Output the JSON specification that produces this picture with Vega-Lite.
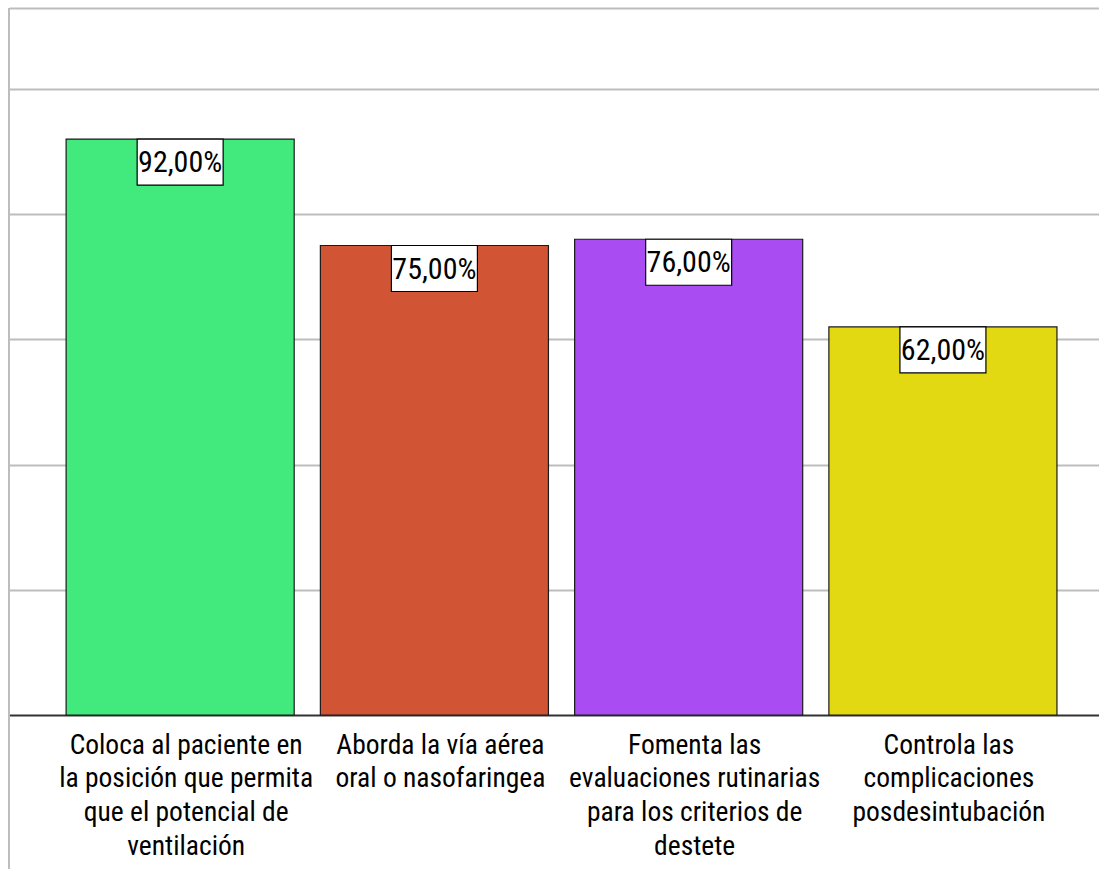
{
  "$schema": "https://vega.github.io/schema/vega-lite/v6.json",
  "width": 1090,
  "height": 707,
  "autosize": {"type": "none"},
  "padding": {"left": 9, "top": 8, "right": 0, "bottom": 154},
  "background": "white",
  "config": {"view": {"stroke": null}},
  "data": {
    "values": [
      {"cat": "Coloca al paciente en|la posición que permita|que el potencial de|ventilación", "value": 92, "label": "92,00%"},
      {"cat": "Aborda la vía aérea|oral o nasofaringea", "value": 75, "label": "75,00%"},
      {"cat": "Fomenta las|evaluaciones rutinarias|para los criterios de|destete", "value": 76, "label": "76,00%"},
      {"cat": "Controla las|complicaciones|posdesintubación", "value": 62, "label": "62,00%"}
    ]
  },
  "layer": [
    {
      "mark": {"type": "rule", "stroke": "#bdbdbd", "strokeWidth": 2},
      "encoding": {
        "x": {"value": 0},
        "y": {"datum": 112.94, "type": "quantitative", "scale": {"domain": [0, 112.94], "nice": false, "zero": true}},
        "y2": {"datum": -24.6}
      }
    },
    {
      "mark": {"type": "bar", "stroke": "#1a1a1a", "strokeWidth": 1.2},
      "encoding": {
        "x": {
          "field": "cat", "type": "nominal", "sort": null,
          "scale": {"paddingInner": 0.103, "paddingOuter": 0.195, "align": 0.576},
          "axis": {
            "title": null, "ticks": false, "domainColor": "#333333", "domainWidth": 1.8,
            "labelExpr": "split(datum.value, '|')", "labelAngle": 0,
            "labelFont": "Roboto Condensed",
            "labelFontSize": 27.5, "labelColor": "#000000", "labelLineHeight": 33.8,
            "labelPadding": 16, "labelLimit": 400, "labelBaseline": "top", "labelOffset": 6
          }
        },
        "y": {
          "field": "value", "type": "quantitative",
          "scale": {"domain": [0, 112.94], "nice": false},
          "axis": {
            "title": null, "labels": false, "ticks": false, "domain": false,
            "grid": true, "gridColor": "#bdbdbd", "gridWidth": 2,
            "values": [20, 40, 60, 80, 100, 112.94]
          }
        },
        "color": {
          "field": "cat", "type": "nominal", "legend": null,
          "scale": {
            "domain": [
              "Coloca al paciente en|la posición que permita|que el potencial de|ventilación",
              "Aborda la vía aérea|oral o nasofaringea",
              "Fomenta las|evaluaciones rutinarias|para los criterios de|destete",
              "Controla las|complicaciones|posdesintubación"
            ],
            "range": ["#42ea7e", "#d15535", "#a94cf2", "#e3d912"]
          }
        }
      }
    },
    {
      "mark": {"type": "point", "shape": "M-1,-0.535H1V0.535H-1Z", "size": 7396, "filled": true, "fill": "white", "stroke": "#000000", "strokeWidth": 1.2, "opacity": 1, "yOffset": 23},
      "encoding": {
        "x": {"field": "cat", "type": "nominal", "sort": null},
        "y": {"field": "value", "type": "quantitative"}
      }
    },
    {
      "mark": {"type": "text", "font": "Roboto Condensed", "fontSize": 30, "color": "#000000", "baseline": "middle", "align": "center", "yOffset": 24},
      "encoding": {
        "x": {"field": "cat", "type": "nominal", "sort": null},
        "y": {"field": "value", "type": "quantitative"},
        "text": {"field": "label"}
      }
    }
  ]
}
